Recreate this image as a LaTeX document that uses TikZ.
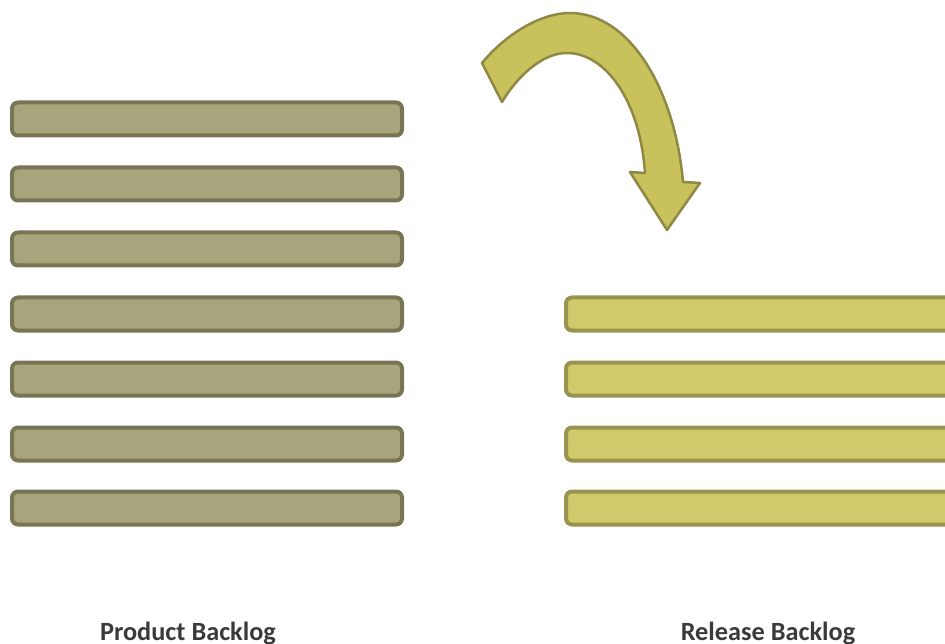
\documentclass[tikz,border=0pt]{standalone}
\usepackage{fontspec}
\setmainfont{Carlito}
\usepackage{tikz}
\usetikzlibrary{positioning,calc}
\definecolor{prodfill}{HTML}{A8A47C}
\definecolor{proddraw}{HTML}{787555}
\definecolor{relfill}{HTML}{D1CA6B}
\definecolor{reldraw}{HTML}{999350}
\definecolor{arrfill}{HTML}{C9C25C}
\definecolor{arrdraw}{HTML}{8E8944}
\definecolor{labeltext}{HTML}{3A3A3A}
\tikzset{item/.style={draw,rounded corners=6pt,line width=4pt,minimum height=33pt,inner sep=0pt}}

\begin{document}
\begin{tikzpicture}[x=1pt, y=-1pt, auto]
        \tikzstyle{prod}=[item,fill=prodfill,draw=proddraw,minimum width=390pt]
        \tikzstyle{rel}=[item,fill=relfill,draw=reldraw,minimum width=420pt,anchor=west]
        \tikzstyle{caption}=[text=labeltext,anchor=base,inner sep=0pt,font=\bfseries\fontsize{26.3}{30}\selectfont]
        \useasboundingbox (0,0) rectangle (945,644);
        \clip (0,0) rectangle (945,644);
        % product backlog
        \node[prod] (P1) at (207,119) {};
        \node[prod] (P2) at (207,184) {};
        \node[prod] (P3) at (207,249) {};
        \node[prod] (P4) at (207,314) {};
        \node[prod] (P5) at (207,379) {};
        \node[prod] (P6) at (207,444) {};
        \node[prod] (P7) at (207,508) {};
        % release backlog
        \node[rel] (R1) at (564,314) {};
        \node[rel] (R2) at (564,379) {};
        \node[rel] (R3) at (564,444) {};
        \node[rel] (R4) at (564,508) {};
        \node[caption] (PB) at (188,640) {Product Backlog};
        \node[caption] (RB) at (768,640) {Release Backlog};
        % curved arrow
        \draw[fill=arrfill,draw=arrdraw,line width=2.5pt,line join=round]
                (482,63) .. controls (505,35) and (540,13) .. (570,13)
                .. controls (630,13) and (675,90) .. (683,182)
                -- (700,183) -- (667,230) -- (630,172) -- (645,173)
                .. controls (640,100) and (605,53) .. (567,53)
                .. controls (540,53) and (515,80) .. (502,102) -- cycle;
\end{tikzpicture}
\end{document}
